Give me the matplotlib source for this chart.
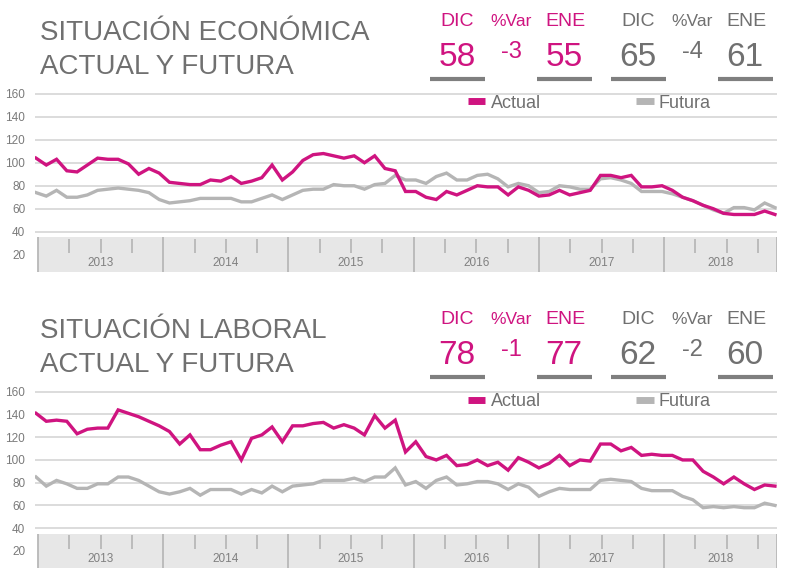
import numpy as np
import matplotlib
matplotlib.use("Agg")
import matplotlib.pyplot as plt
from matplotlib.lines import Line2D

plt.rcParams['font.family'] = ['Liberation Sans', 'DejaVu Sans']

# --- datos (mensuales, ene 2013 -> ene 2019) ---
econ_actual = [104, 98, 103, 93, 92, 98, 104, 103, 103, 99, 90, 95,
               91, 83, 82, 81, 81, 85, 84, 88, 82, 84, 87, 98,
               85, 92, 102, 107, 108, 106, 104, 106, 100, 106, 95, 93,
               75, 75, 70, 68, 75, 72, 76, 80, 79, 79, 72, 79,
               76, 71, 72, 76, 72, 74, 76, 89, 89, 87, 89, 79,
               79, 80, 76, 70, 67, 63, 60, 56, 55, 55, 55, 58, 55]
econ_futura = [74, 71, 76, 70, 70, 72, 76, 77, 78, 77, 76, 74,
               68, 65, 66, 67, 69, 69, 69, 69, 66, 66, 69, 72,
               68, 72, 76, 77, 77, 81, 80, 80, 77, 81, 82, 89,
               85, 85, 82, 88, 91, 85, 85, 89, 90, 86, 79, 82,
               80, 74, 75, 80, 79, 77, 77, 86, 87, 85, 82, 75,
               75, 75, 73, 70, 67, 63, 59, 56, 61, 61, 59, 65, 61]
lab_actual = [141, 134, 135, 134, 123, 127, 128, 128, 144, 141, 138, 134,
              130, 125, 114, 122, 109, 109, 113, 116, 100, 119, 122, 129,
              116, 130, 130, 132, 133, 128, 131, 128, 122, 139, 128, 135,
              107, 116, 103, 100, 104, 95, 96, 100, 95, 98, 91, 102,
              98, 93, 97, 104, 95, 100, 99, 114, 114, 108, 111, 104,
              105, 104, 104, 100, 100, 90, 85, 79, 85, 79, 74, 78, 77]
lab_futura = [85, 77, 82, 79, 75, 75, 79, 79, 85, 85, 82, 77,
              72, 70, 72, 75, 69, 74, 74, 74, 70, 74, 71, 77,
              72, 77, 78, 79, 82, 82, 82, 84, 81, 85, 85, 93,
              78, 81, 75, 82, 85, 78, 79, 81, 81, 79, 74, 79,
              76, 68, 72, 75, 74, 74, 74, 82, 83, 82, 81, 75,
              73, 73, 73, 68, 65, 58, 59, 58, 59, 58, 58, 62, 60]
years = ['2013', '2014', '2015', '2016', '2017', '2018']
yticks = [20, 40, 60, 80, 100, 120, 140, 160]

titles = [("SITUACIÓN ECONÓMICA", "ACTUAL Y FUTURA"),
          ("SITUACIÓN LABORAL", "ACTUAL Y FUTURA")]
resumen = [(("58", "-3", "55"), ("65", "-4", "61")),
           (("78", "-1", "77"), ("62", "-2", "60"))]

MAGENTA = "#cf1480"
GRIS = "#b5b5b5"
TXT = "#707070"

W, H = 810, 573
fig = plt.figure(figsize=(W / 100, H / 100), dpi=100)


def fx(px):
    return px / W


def fy(py):
    return 1 - py / H


def panel(top_px, bot_px, actual, futura, legend_y):
    ax = fig.add_axes([fx(35), fy(bot_px), fx(777) - fx(35), fy(top_px) - fy(bot_px)])
    x = np.arange(len(actual))
    ax.set_xlim(-0.1, 72.2)
    ax.set_ylim(5, 161.5)
    ax.hlines(yticks[1:], -0.1, 72.2, color="#d6d6d6", lw=1.2, zorder=1)

    # banda de años
    start, ylen = 0.2, 12.2
    ax.fill_between([start, 72.2], 5, 35, color="#e7e7e7", zorder=1, lw=0)
    seps = [start + k * ylen for k in range(len(years))] + [72.2]
    ax.vlines(seps, 5, 35, color="#b8b8b8", lw=1.3, zorder=2)
    qs = [start + k * ylen + q * ylen / 4 for k in range(len(years)) for q in (1, 2, 3)]
    ax.vlines(qs, 21.5, 34, color="#b8b8b8", lw=1.3, zorder=2)
    for k, yr in enumerate(years):
        xc = (seps[k] + seps[k + 1]) / 2
        ax.text(xc, 12.5, yr, ha="center", va="center", fontsize=8.5, color="#808080")

    ax.plot(x, futura, color=GRIS, lw=2.4, zorder=3, solid_joinstyle="miter")
    ax.plot(x, actual, color=MAGENTA, lw=2.4, zorder=4, solid_joinstyle="miter")

    ax.set_yticks(yticks)
    ax.set_xticks([])
    ax.tick_params(axis="y", length=0, pad=7, labelsize=8.5, labelcolor="#7a7a7a")
    for s in ax.spines.values():
        s.set_visible(False)

    handles = [Line2D([], [], color=MAGENTA, lw=5, solid_capstyle="butt"),
               Line2D([], [], color=GRIS, lw=5, solid_capstyle="butt")]
    fig.legend(handles, ["Actual", "Futura"], loc="center left",
               bbox_to_anchor=(fx(468), fy(legend_y)), ncol=2, frameon=False,
               fontsize=13, handlelength=0.95, handletextpad=0.3,
               columnspacing=5.3, borderpad=0, borderaxespad=0, labelcolor=TXT)
    return ax


def cabecera(y0, tit, vals, big_dy):
    fig.text(fx(40), fy(y0 + 11), tit[0], fontsize=20, color=TXT, va="center")
    fig.text(fx(40), fy(y0 + 45), tit[1], fontsize=20, color=TXT, va="center")
    for grp, col, x0 in ((vals[0], MAGENTA, 430), (vals[1], TXT, 611)):
        fig.text(fx(x0 + 27), fy(y0), "DIC", fontsize=14, color=col, ha="center", va="center")
        fig.text(fx(x0 + 81), fy(y0), "%Var", fontsize=12.5, color=col, ha="center", va="center")
        fig.text(fx(x0 + 135), fy(y0), "ENE", fontsize=14, color=col, ha="center", va="center")
        fig.text(fx(x0 + 27), fy(y0 + big_dy), grp[0], fontsize=24, color=col, ha="center", va="center")
        fig.text(fx(x0 + 81), fy(y0 + big_dy - 5), grp[1], fontsize=17, color=col, ha="center", va="center")
        fig.text(fx(x0 + 134), fy(y0 + big_dy), grp[2], fontsize=24, color=col, ha="center", va="center")
        for ux in (x0, x0 + 107):
            fig.add_artist(Line2D([fx(ux), fx(ux + 55)], [fy(y0 + 57)] * 2,
                                  color="#7f7f7f", lw=3, solid_capstyle="butt"))


cabecera(22, titles[0], resumen[0], 35)
panel(92, 272, econ_actual, econ_futura, 103)
cabecera(320, titles[1], resumen[1], 35)
panel(390, 568, lab_actual, lab_futura, 402)

fig.savefig("out.png", dpi=100)
